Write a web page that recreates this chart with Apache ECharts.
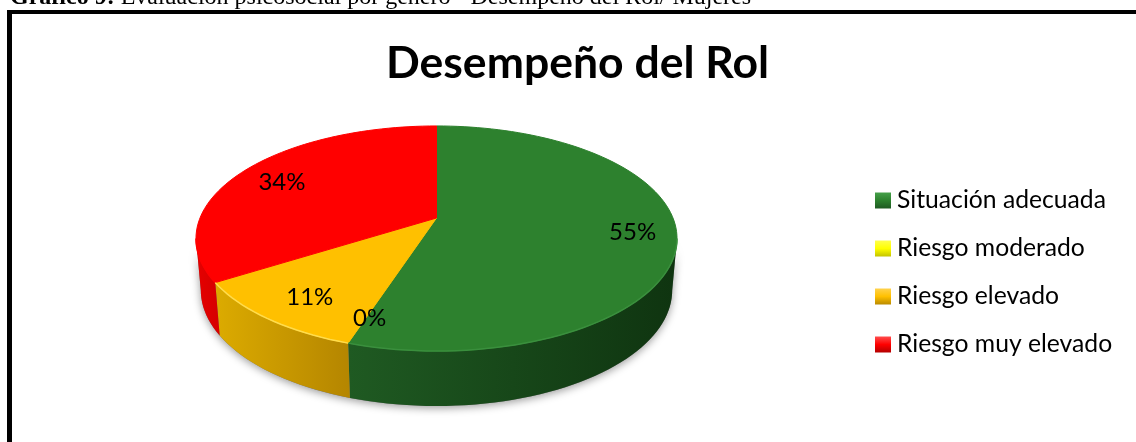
<!DOCTYPE html>
<html>
<head>
<meta charset="utf-8">
<style>html,body{margin:0;padding:0;background:#fff}#chart{width:1136px;height:442px}</style>
<script src="https://cdn.jsdelivr.net/npm/echarts@6/dist/echarts.min.js"></script>
</head>
<body>
<div id="chart"></div>
<script>
const categories = ['Situación adecuada', 'Riesgo moderado', 'Riesgo elevado', 'Riesgo muy elevado'];
const values = [55, 0, 11, 34];

const topColors = ['#2d812e', '#ffff00', '#ffc000', '#ff0000'];
const rimColors = ['#3a8f3d', '#ffff66', '#ffdc4d', '#ff0000'];
const wallColors = [['#1f5a22', '#0f3410'], ['#cccc00', '#999900'], ['#dcab00', '#b58600'], ['#e60000', '#d80000']];
const legendColors = [['#46a049', '#1f5a22'], ['#ffff4d', '#c4c400'], ['#ffd24d', '#b98a00'], ['#ff4d4d', '#b30000']];
const labelNudge = [[0, 0], [3, 1], [8, -1], [4, 4]];

// tilted disc: projective map from the unit circle to the page
const cx = 436.5, apexY = 218, persp = 0.182, scaleX = 236.5, scaleY = 108.8;
const project = (r, deg) => {
  const a = deg * Math.PI / 180;
  const u = r * Math.sin(a), v = r * Math.cos(a);
  const d = 1 + persp * v;
  return [cx + scaleX * u / d, apexY - scaleY * v / d];
};
const lower = p => [cx + (p[0] - cx) * 0.98, 406 + (p[1] - 351) * 1.03];
const wallFrom = 100.5, wallTo = 259.5;

const total = values.reduce((a, b) => a + b, 0);
const startAngle = i => values.slice(0, i).reduce((a, b) => a + b, 0) / total * 360;
const arc = (from, to) => {
  const pts = [];
  const n = Math.max(2, Math.ceil((to - from) / 2));
  for (let k = 0; k <= n; k++) pts.push(project(1, from + (to - from) * k / n));
  return pts;
};

const sliceSeries = categories.map((name, i) => ({
  name,
  type: 'custom',
  coordinateSystem: 'none',
  silent: true,
  z: 3,
  itemStyle: { color: topColors[i] },
  data: [values[i]],
  renderItem: () => {
    const from = startAngle(i), to = from + values[i] / total * 360;
    const children = [];
    const wa = Math.max(from, wallFrom), wb = Math.min(to, wallTo);
    if (wb > wa) {
      const rim = arc(wa, wb);
      const xs = rim.map(p => p[0]);
      const x0 = Math.min(...xs), x1 = Math.max(...xs);
      children.push({
        type: 'polygon',
        z2: 1,
        shape: { points: rim.concat(rim.map(lower).reverse()) },
        style: {
          fill: new echarts.graphic.LinearGradient(x1, 0, x0, 0, [
            { offset: 0, color: wallColors[i][1] },
            { offset: 1, color: wallColors[i][0] }
          ], true)
        }
      });
    }
    if (to > from) {
      children.push({
        type: 'polygon',
        z2: 2,
        shape: { points: [project(0, 0)].concat(arc(from, to)) },
        style: { fill: topColors[i], stroke: topColors[i], lineWidth: 1 }
      });
    }
    if (wb > wa) {
      children.push({
        type: 'polyline',
        z2: 3,
        shape: { points: arc(wa, wb) },
        style: { fill: 'none', stroke: rimColors[i], lineWidth: 1.5 }
      });
    }
    return { type: 'group', children };
  }
}));

// labels sit on a later pass so no slice covers them
const labelSeries = {
  name: 'etiquetas',
  type: 'custom',
  coordinateSystem: 'none',
  silent: true,
  z: 5,
  data: values,
  renderItem: (params, api) => {
    const i = params.dataIndex;
    const mid = startAngle(i) + values[i] / total * 180;
    const p = project(0.82, mid);
    return {
      type: 'text',
      x: p[0] + labelNudge[i][0],
      y: p[1] + labelNudge[i][1],
      style: {
        text: api.value(0) + '%',
        fill: '#000',
        font: '24px Lato',
        align: 'center',
        verticalAlign: 'middle'
      }
    };
  }
};

const shadowSeries = {
  name: 'sombra',
  type: 'custom',
  coordinateSystem: 'none',
  silent: true,
  z: 1,
  data: [total],
  renderItem: () => {
    const rim = arc(wallFrom, wallTo);
    return {
      type: 'polygon',
      shape: { points: rim.concat(rim.map(lower).reverse()) },
      style: { fill: '#777', shadowBlur: 9, shadowColor: 'rgba(0,0,0,0.4)', shadowOffsetY: 2 }
    };
  }
};

const chart = echarts.init(document.getElementById('chart'), null, { renderer: 'canvas' });
chart.setOption({
  animation: false,
  backgroundColor: '#fff',
  title: [
    {
      text: '{b|Gráfico 9:} Evaluación psicosocial por género - Desempeño del Rol/ Mujeres',
      left: 10,
      top: -14,
      padding: 0,
      textStyle: {
        fontFamily: 'Liberation Serif',
        fontSize: 24,
        fontWeight: 'normal',
        color: '#000',
        rich: { b: { fontFamily: 'Liberation Serif', fontSize: 24, fontWeight: 'bold', color: '#000' } }
      }
    },
    {
      text: 'Desempeño del Rol',
      left: 386,
      top: 41,
      padding: 0,
      textStyle: { fontFamily: 'Lato', fontSize: 44.5, fontWeight: 'bold', color: '#000' }
    }
  ],
  legend: {
    orient: 'vertical',
    left: 870,
    top: 183,
    itemWidth: 16,
    itemHeight: 16,
    itemGap: 23,
    icon: 'rect',
    selectedMode: false,
    textStyle: { fontFamily: 'Lato', fontSize: 24.7, color: '#000', lineHeight: 24, padding: [0, 0, 0, 1] },
    data: categories.map((name, i) => ({
      name,
      itemStyle: {
        color: new echarts.graphic.LinearGradient(0, 0, 0, 1, [
          { offset: 0, color: legendColors[i][0] },
          { offset: 0.5, color: topColors[i] },
          { offset: 1, color: legendColors[i][1] }
        ])
      }
    }))
  },
  graphic: [
    { type: 'line', silent: true, shape: { x1: 9.5, y1: 10, x2: 9.5, y2: 442 }, style: { stroke: '#000', lineWidth: 5 } },
    { type: 'line', silent: true, shape: { x1: 7, y1: 12, x2: 1136, y2: 12 }, style: { stroke: '#000', lineWidth: 4 } }
  ],
  series: [shadowSeries, ...sliceSeries, labelSeries]
});
</script>
</body>
</html>
